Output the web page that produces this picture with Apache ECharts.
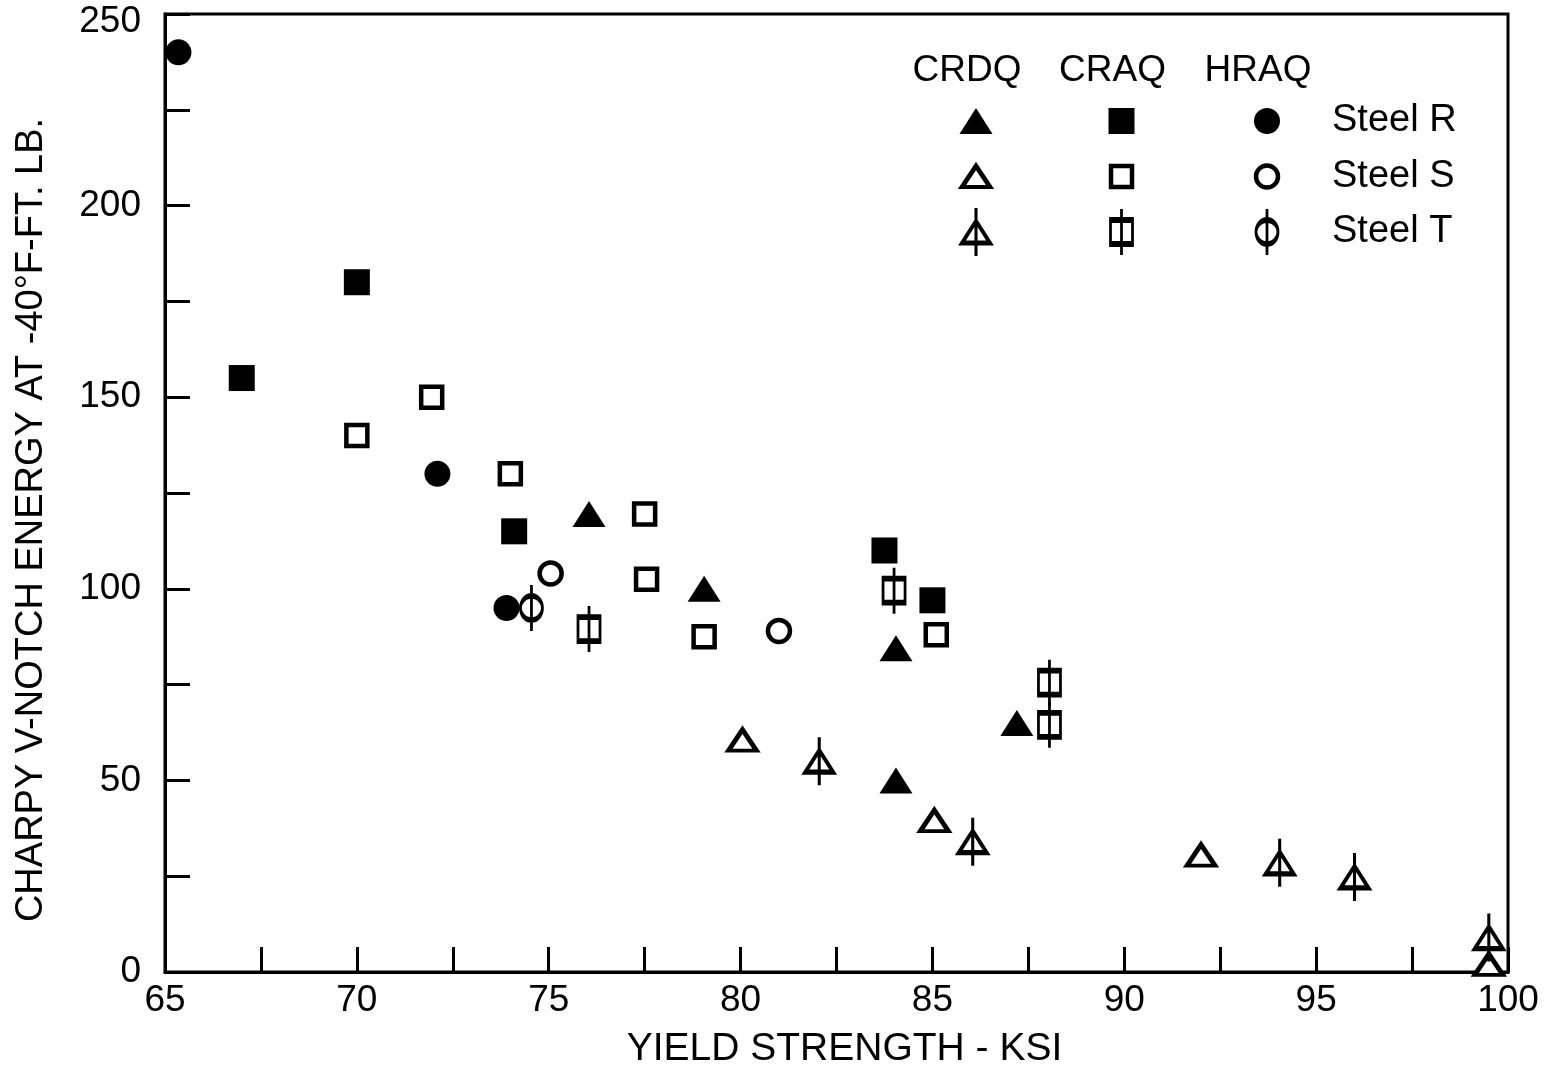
<!DOCTYPE html>
<html>
<head>
<meta charset="utf-8">
<script src="https://cdn.jsdelivr.net/npm/echarts@6/dist/echarts.min.js"></script>
<style>
  html, body { margin: 0; padding: 0; background: #fff; }
  #chart { width: 1550px; height: 1068px; }
</style>
</head>
<body>
<div id="chart"></div>
<script>
// Charpy V-notch energy at -40°F vs. yield strength, by steel and processing route.
// Each array holds [yield strength (ksi), energy (ft-lb)] pairs.
const steelR_CRDQ = [[76.05, 119.5], [79.05, 100], [84.05, 84.5], [84.05, 50], [87.2, 65]];
const steelS_CRDQ = [[80.05, 60.5], [85.05, 39.5], [92.0, 30.5], [99.5, 2]];
const steelT_CRDQ = [[82.05, 55], [86.05, 34], [94.05, 28.5], [96.0, 24.8], [99.5, 9]];

const steelR_CRAQ = [[67.0, 155], [70.0, 180], [74.1, 115], [83.75, 110], [85.0, 97]];
const steelS_CRAQ = [[70.0, 140], [71.95, 150], [74.0, 130], [77.5, 119.5], [77.55, 102.5], [79.05, 87.5], [85.1, 88]];
const steelT_CRAQ = [[76.05, 89.5], [84.0, 99.5], [88.05, 75.5], [88.05, 64.5]];

const steelR_HRAQ = [[65.35, 240], [72.1, 130], [73.9, 95]];
const steelS_HRAQ = [[75.05, 104], [81.0, 89]];
const steelT_HRAQ = [[74.55, 95]];

const processes = ['CRDQ', 'CRAQ', 'HRAQ'];
const steels = ['Steel R', 'Steel S', 'Steel T'];

const xMin = 65, xMax = 100, xStep = 2.5, xLabelStep = 5;
const yMin = 0, yMax = 250, yStep = 25, yLabelStep = 50;

const FONT = '"Liberation Sans", Arial, Helvetica, sans-serif';
const INK = '#000';

function solid() { return { color: INK, opacity: 1 }; }
function hollow(w) { return { color: '#fff', borderColor: INK, borderWidth: w, opacity: 1 }; }

// Marker styles: solid = Steel R, hollow = Steel S, hollow with a vertical bar = Steel T
const markers = {
  R_CRDQ: { symbol: 'triangle', symbolSize: [33, 26], itemStyle: solid() },
  S_CRDQ: { symbol: 'triangle', symbolSize: [28, 21], itemStyle: hollow(4.5) },
  T_CRDQ: { symbol: 'path://M16,0L16,48M16,13L30,35L2,35Z', symbolSize: [28, 48], itemStyle: hollow(4) },
  R_CRAQ: { symbol: 'rect', symbolSize: [26, 26], itemStyle: solid() },
  S_CRAQ: { symbol: 'rect', symbolSize: [21, 21], itemStyle: hollow(4.5) },
  T_CRAQ: { symbol: 'path://M12,0L12,46M1,11H23V35H1Z', symbolSize: [22, 46], itemStyle: hollow(4) },
  R_HRAQ: { symbol: 'circle', symbolSize: 26, itemStyle: solid() },
  S_HRAQ: { symbol: 'circle', symbolSize: 22, itemStyle: hollow(4.5) },
  T_HRAQ: { symbol: 'path://M12,0L12,46M1,23A11,12,0,1,1,23,23A11,12,0,1,1,1,23Z', symbolSize: [22, 46], itemStyle: hollow(4) }
};

const dataByKey = {
  R_CRDQ: steelR_CRDQ, S_CRDQ: steelS_CRDQ, T_CRDQ: steelT_CRDQ,
  R_CRAQ: steelR_CRAQ, S_CRAQ: steelS_CRAQ, T_CRAQ: steelT_CRAQ,
  R_HRAQ: steelR_HRAQ, S_HRAQ: steelS_HRAQ, T_HRAQ: steelT_HRAQ
};

const series = [];
// main scatter
Object.keys(dataByKey).forEach(function (key) {
  const m = markers[key];
  series.push({
    type: 'scatter', name: key, xAxisIndex: 0, yAxisIndex: 0,
    symbol: m.symbol, symbolSize: m.symbolSize, itemStyle: m.itemStyle,
    data: dataByKey[key], silent: true, z: 3,
    emphasis: { disabled: true }
  });
});
// key table: columns = process, rows = steel
['R', 'S', 'T'].forEach(function (s, row) {
  processes.forEach(function (p, col) {
    const m = markers[s + '_' + p];
    series.push({
      type: 'scatter', xAxisIndex: 1, yAxisIndex: 1,
      symbol: m.symbol, symbolSize: m.symbolSize, itemStyle: m.itemStyle,
      data: [[col, row]], silent: true, emphasis: { disabled: true }
    });
  });
});

const chart = echarts.init(document.getElementById('chart'), null, { renderer: 'canvas' });
chart.setOption({
  animation: false,
  backgroundColor: '#fff',
  textStyle: { fontFamily: FONT, color: INK },
  grid: [
    { left: 165, right: 42, top: 14, bottom: 96, outerBoundsMode: 'none', containLabel: false,
      show: true, borderColor: INK, borderWidth: 3, backgroundColor: 'transparent' },
    { left: 976, width: 291, top: 121, height: 111, outerBoundsMode: 'none', containLabel: false }
  ],
  xAxis: [
    {
      type: 'value', gridIndex: 0, min: xMin, max: xMax, interval: xStep,
      name: 'YIELD STRENGTH - KSI', nameLocation: 'middle', nameGap: 58,
      nameTextStyle: { fontFamily: FONT, fontSize: 39, color: INK, padding: [0, 0, 0, 16] },
      axisLine: { lineStyle: { color: INK, width: 3 } },
      axisTick: { inside: true, length: 25, lineStyle: { color: INK, width: 3 } },
      axisLabel: {
        fontFamily: FONT, fontSize: 37, color: INK, margin: 10,
        formatter: function (v) { return Math.abs(v % xLabelStep) < 1e-9 ? String(v) : ''; }
      },
      splitLine: { show: false }
    },
    {
      type: 'category', gridIndex: 1, data: processes, position: 'top', boundaryGap: false,
      axisLine: { show: false }, axisTick: { show: false }, splitLine: { show: false },
      axisLabel: { fontFamily: FONT, fontSize: 37, color: INK, margin: 32, padding: [0, 18, 0, 0] }
    }
  ],
  yAxis: [
    {
      type: 'value', gridIndex: 0, min: yMin, max: yMax, interval: yStep,
      name: 'CHARPY V-NOTCH ENERGY AT -40°F-FT. LB.', nameLocation: 'middle', nameGap: 114, nameRotate: 90,
      nameTextStyle: { fontFamily: FONT, fontSize: 38, color: INK, padding: [0, 54, 0, 0] },
      axisLine: { lineStyle: { color: INK, width: 3 } },
      axisTick: { inside: true, length: 25, lineStyle: { color: INK, width: 3 } },
      axisLabel: {
        fontFamily: FONT, fontSize: 37, color: INK, margin: 24,
        formatter: function (v) {
          if (Math.abs(v % yLabelStep) > 1e-9) return '';
          // the top label sits just inside the frame
          return v === yMax ? '{top|' + v + '}' : String(v);
        },
        rich: { top: { fontFamily: FONT, fontSize: 37, color: INK, padding: [16, 0, 0, 0] } }
      },
      splitLine: { show: false }
    },
    {
      type: 'category', gridIndex: 1, data: steels, position: 'right', inverse: true, boundaryGap: false,
      axisLine: { show: false }, axisTick: { show: false }, splitLine: { show: false },
      axisLabel: { fontFamily: FONT, fontSize: 38, color: INK, margin: 65, align: 'left', padding: [4, 0, 0, 0] }
    }
  ],
  series: series
});
</script>
</body>
</html>
